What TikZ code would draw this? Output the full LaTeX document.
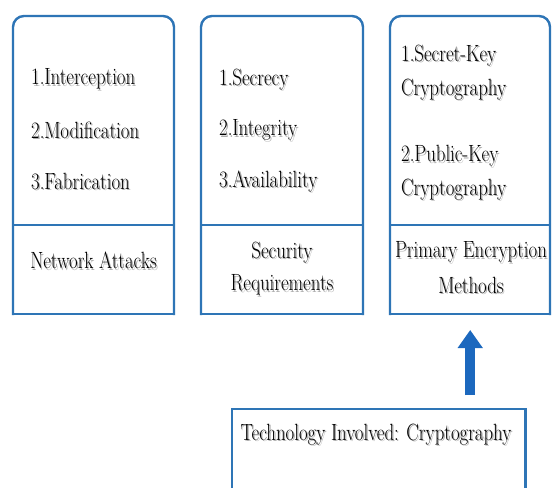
\documentclass[tikz,border=0pt]{standalone}
\usepackage{xcolor}
\usetikzlibrary{arrows.meta,calc}
\definecolor{frameblue}{HTML}{2E75B6}
\definecolor{arrowblue}{HTML}{1C68BE}
\definecolor{arrowedge}{HTML}{1A5796}
% text with a soft grey shadow behind it
\newcommand{\shd}[1]{\makebox[0pt][l]{\hspace{1.6pt}\raisebox{-1.6pt}{\textcolor{black!32}{#1}}}#1}
\tikzset{
  frame/.style={draw=frameblue, line width=2.4pt, line cap=rect},
  lbl/.style={inner sep=0pt, font=\fontsize{23.5}{28}\selectfont, xscale=0.8, transform shape},
  item/.style={lbl, anchor=west},
  midlbl/.style={lbl, anchor=center},
  bigarrow/.style={draw=arrowedge, line width=10pt, -{Triangle[width=24pt,length=18pt]}, arrowblue}
}
\begin{document}
\begin{tikzpicture}[x=1pt,y=1pt]
\useasboundingbox (0,0) rectangle (553,487);
\fill[white] (0,0) rectangle (553,487);

% three category boxes: rounded top corners, square bottom
\foreach \l/\r/\n in {13/174/a, 201/363/b, 390/550/c}{
  \node[inner sep=0pt, minimum width={\r-\l}, minimum height=298, anchor=south west] (\n) at (\l,173) {};
  \draw[frame, rounded corners=11pt] (\l,173) -- (\l,471) -- (\r,471) -- (\r,173);
  \draw[frame] (\l,173) -- (\r,173);
  \draw[frame] (\l,262) -- (\r,262);
}

% box a
\node[item] (a1) at (31,407) {\shd{1.Interception}};
\node[item] (a2) at (31,356) {\shd{2.Modification}};
\node[item] (a3) at (31,305) {\shd{3.Fabrication}};
\node[midlbl] (at) at (93.5,226) {\shd{Network Attacks}};

% box b
\node[item] (b1) at (219,407) {\shd{1.Secrecy}};
\node[item] (b2) at (219,356) {\shd{2.Integrity}};
\node[item] (b3) at (219,305) {\shd{3.Availability}};
\node[midlbl] (bt1) at (282,234) {\shd{Security}};
\node[midlbl] (bt2) at (282,201) {\shd{Requirements}};

% box c
\node[item] (c1) at (401,431) {\shd{1.Secret-Key}};
\node[item] (c2) at (401,397) {\shd{Cryptography}};
\node[item] (c3) at (401,330) {\shd{2.Public-Key}};
\node[item] (c4) at (401,297) {\shd{Cryptography}};
\node[midlbl] (ct1) at (471,234) {\shd{Primary Encryption}};
\node[midlbl] (ct2) at (471,201) {\shd{Methods}};

% technology box, open at the bottom edge
\node[inner sep=0pt, minimum width=293, minimum height=80, anchor=north west] (tech) at (232,78) {};
\draw[frame] (tech.south west) -- (tech.north west) -- (tech.north east) -- (tech.south east);
\node[midlbl] (tt) at (376,52) {\shd{Technology Involved: Cryptography}};

% arrow pointing up to the encryption-methods box
\draw[bigarrow] ($(tech.north -| c.south)+(0,14)$) -- ($(c.south)+(0,-16)$);
\end{tikzpicture}
\end{document}
